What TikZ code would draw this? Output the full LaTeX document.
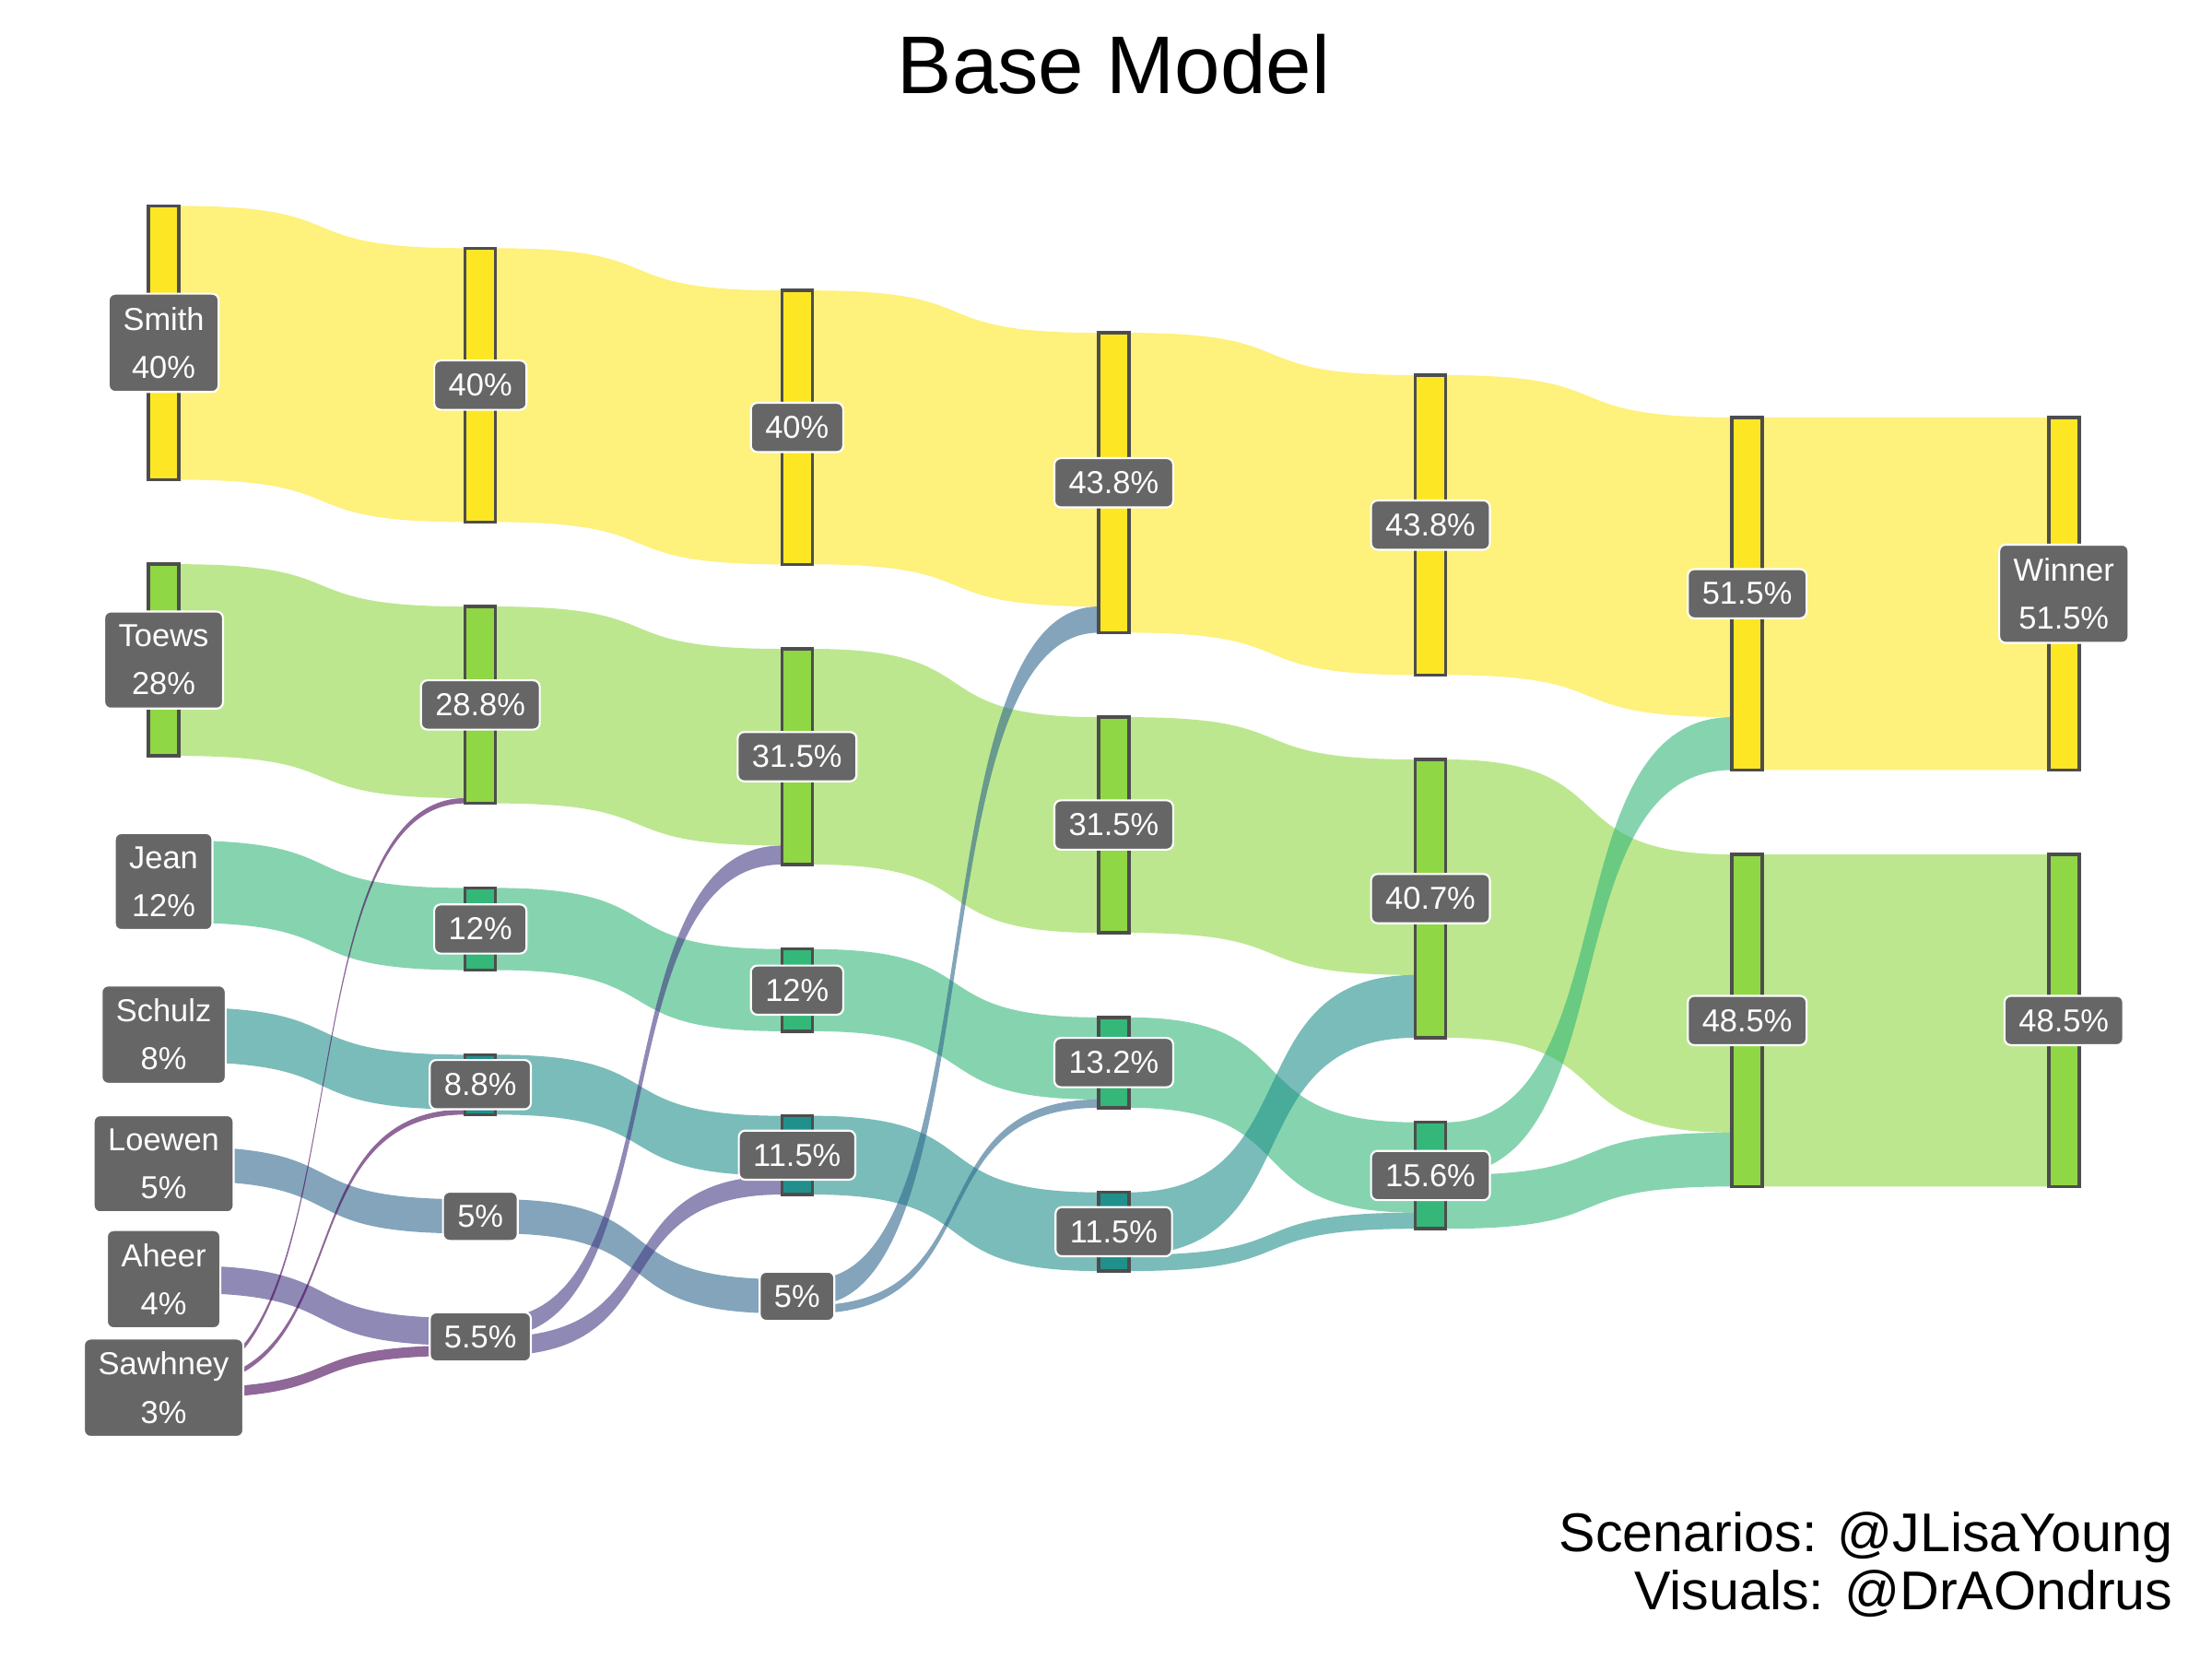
\documentclass[tikz,border=0pt]{standalone}
\usepackage{fontspec}
\setmainfont{Liberation Sans}
\usepackage{tikz}
\usetikzlibrary{calc, backgrounds}

\definecolor{smithc}{HTML}{FDE725}
\definecolor{toewsc}{HTML}{8FD744}
\definecolor{jeanc}{HTML}{35B779}
\definecolor{schulzc}{HTML}{21908C}
\definecolor{loewenc}{HTML}{31688E}
\definecolor{aheerc}{HTML}{443A83}
\definecolor{sawhneyc}{HTML}{440154}
\definecolor{barline}{HTML}{4D4D4D}
\definecolor{labgray}{HTML}{666666}

\begin{document}
\begin{tikzpicture}
[x=0.01cm, y=-0.01cm,
 vbar/.style={rectangle, draw=barline, line width=0.65pt, minimum width=0.215cm, inner sep=0pt, outer sep=0pt},
 lab/.style={rectangle, rounded corners=1.3pt, fill=labgray, draw=white, line width=0.4pt, text=white, align=center,
   font=\fontsize{6.4}{9.7}\selectfont, inner xsep=2.9pt, inner ysep=2.7pt},
 credit/.style={font=\fontsize{11}{12}\selectfont, anchor=base east, inner sep=0pt},
 smithflow/.style={fill=smithc, fill opacity=0.6},
 toewsflow/.style={fill=toewsc, fill opacity=0.6},
 jeanflow/.style={fill=jeanc, fill opacity=0.6},
 schulzflow/.style={fill=schulzc, fill opacity=0.6},
 loewenflow/.style={fill=loewenc, fill opacity=0.6},
 aheerflow/.style={fill=aheerc, fill opacity=0.6},
 sawhneyflow/.style={fill=sawhneyc, fill opacity=0.6}]
\useasboundingbox (0,0) rectangle (1568,1176);
\node[font=\fontsize{16.5}{20}\selectfont, anchor=base] (title) at (789.5,66) {Base Model};
% round 1
\node[vbar, fill=smithc, minimum height=1.94cm] (smith1) at (116,243) {};
\node[vbar, fill=toewsc, minimum height=1.358cm] (toews1) at (116,467.9) {};
\node[vbar, fill=jeanc, minimum height=0.582cm] (jean1) at (116,624.9) {};
\node[vbar, fill=schulzc, minimum height=0.388cm] (schulz1) at (116,733.4) {};
\node[vbar, fill=loewenc, minimum height=0.2425cm] (loewen1) at (116,824.93) {};
\node[vbar, fill=aheerc, minimum height=0.194cm] (aheer1) at (116,906.75) {};
\node[vbar, fill=sawhneyc, minimum height=0.1455cm] (sawhney1) at (116,983.73) {};
% round 2
\node[vbar, fill=smithc, minimum height=1.94cm] (smith2) at (340.5,273) {};
\node[vbar, fill=toewsc, minimum height=1.3944cm] (toews2) at (340.5,499.72) {};
\node[vbar, fill=jeanc, minimum height=0.582cm] (jean2) at (340.5,658.54) {};
\node[vbar, fill=schulzc, minimum height=0.4244cm] (schulz2) at (340.5,768.86) {};
\node[vbar, fill=loewenc, minimum height=0.2425cm] (loewen2) at (340.5,862.21) {};
\node[vbar, fill=aheerc, minimum height=0.26675cm] (aheer2) at (340.5,947.67) {};
% round 3
\node[vbar, fill=smithc, minimum height=1.94cm] (smith3) at (565,303) {};
\node[vbar, fill=toewsc, minimum height=1.52775cm] (toews3) at (565,536.39) {};
\node[vbar, fill=jeanc, minimum height=0.582cm] (jean3) at (565,701.88) {};
\node[vbar, fill=schulzc, minimum height=0.55775cm] (schulz3) at (565,818.86) {};
\node[vbar, fill=loewenc, minimum height=0.2425cm] (loewen3) at (565,918.88) {};
% round 4
\node[vbar, fill=smithc, minimum height=2.1243cm] (smith4) at (789.5,342.22) {};
\node[vbar, fill=toewsc, minimum height=1.52775cm] (toews4) at (789.5,584.82) {};
\node[vbar, fill=jeanc, minimum height=0.6402cm] (jean4) at (789.5,753.21) {};
\node[vbar, fill=schulzc, minimum height=0.55775cm] (schulz4) at (789.5,873.11) {};
% round 5
\node[vbar, fill=smithc, minimum height=2.1243cm] (smith5) at (1014,372.22) {};
\node[vbar, fill=toewsc, minimum height=1.9716cm] (toews5) at (1014,637) {};
\node[vbar, fill=jeanc, minimum height=0.7542cm] (jean5) at (1014,833.29) {};
% round 6 and result
\node[vbar, fill=smithc, minimum height=2.49775cm] (smith6) at (1238.5,420.89) {};
\node[vbar, fill=toewsc, minimum height=2.35225cm] (toews6) at (1238.5,723.39) {};
\node[vbar, fill=smithc, minimum height=2.49775cm] (smith7) at (1463,420.89) {};
\node[vbar, fill=toewsc, minimum height=2.35225cm] (toews7) at (1463,723.39) {};
\begin{scope}[on background layer]
% round 1 -> 2
\fill[smithflow] (smith1.north east) .. controls +(130,0) and +(-130,0) .. (smith2.north west) -- (smith2.south west) .. controls +(-130,0) and +(130,0) .. (smith1.south east) -- cycle;
\fill[toewsflow] (toews1.north east) .. controls +(130,0) and +(-130,0) .. (toews2.north west) -- ($(toews2.north west)+(0,135.8)$) .. controls +(-130,0) and +(130,0) .. (toews1.south east) -- cycle;
\fill[jeanflow] (jean1.north east) .. controls +(130,0) and +(-130,0) .. (jean2.north west) -- (jean2.south west) .. controls +(-130,0) and +(130,0) .. (jean1.south east) -- cycle;
\fill[schulzflow] (schulz1.north east) .. controls +(130,0) and +(-130,0) .. (schulz2.north west) -- ($(schulz2.north west)+(0,38.8)$) .. controls +(-130,0) and +(130,0) .. (schulz1.south east) -- cycle;
\fill[loewenflow] (loewen1.north east) .. controls +(130,0) and +(-130,0) .. (loewen2.north west) -- (loewen2.south west) .. controls +(-130,0) and +(130,0) .. (loewen1.south east) -- cycle;
\fill[aheerflow] (aheer1.north east) .. controls +(130,0) and +(-130,0) .. (aheer2.north west) -- ($(aheer2.north west)+(0,19.4)$) .. controls +(-130,0) and +(130,0) .. (aheer1.south east) -- cycle;
\fill[sawhneyflow] (sawhney1.north east) .. controls +(130,0) and +(-130,0) .. ($(toews2.north west)+(0,135.8)$) -- (toews2.south west) .. controls +(-130,0) and +(130,0) .. ($(sawhney1.north east)+(0,3.64)$) -- cycle;
\fill[sawhneyflow] ($(sawhney1.north east)+(0,3.64)$) .. controls +(130,0) and +(-130,0) .. ($(schulz2.north west)+(0,38.8)$) -- (schulz2.south west) .. controls +(-130,0) and +(130,0) .. ($(sawhney1.north east)+(0,7.28)$) -- cycle;
\fill[sawhneyflow] ($(sawhney1.north east)+(0,7.28)$) .. controls +(130,0) and +(-130,0) .. ($(aheer2.north west)+(0,19.4)$) -- (aheer2.south west) .. controls +(-130,0) and +(130,0) .. (sawhney1.south east) -- cycle;
% round 2 -> 3
\fill[smithflow] (smith2.north east) .. controls +(130,0) and +(-130,0) .. (smith3.north west) -- (smith3.south west) .. controls +(-130,0) and +(130,0) .. (smith2.south east) -- cycle;
\fill[toewsflow] (toews2.north east) .. controls +(130,0) and +(-130,0) .. (toews3.north west) -- ($(toews3.north west)+(0,139.44)$) .. controls +(-130,0) and +(130,0) .. (toews2.south east) -- cycle;
\fill[jeanflow] (jean2.north east) .. controls +(130,0) and +(-130,0) .. (jean3.north west) -- (jean3.south west) .. controls +(-130,0) and +(130,0) .. (jean2.south east) -- cycle;
\fill[schulzflow] (schulz2.north east) .. controls +(130,0) and +(-130,0) .. (schulz3.north west) -- ($(schulz3.north west)+(0,42.44)$) .. controls +(-130,0) and +(130,0) .. (schulz2.south east) -- cycle;
\fill[loewenflow] (loewen2.north east) .. controls +(130,0) and +(-130,0) .. (loewen3.north west) -- (loewen3.south west) .. controls +(-130,0) and +(130,0) .. (loewen2.south east) -- cycle;
\fill[aheerflow] (aheer2.north east) .. controls +(130,0) and +(-130,0) .. ($(toews3.north west)+(0,139.44)$) -- (toews3.south west) .. controls +(-130,0) and +(130,0) .. ($(aheer2.north east)+(0,13.34)$) -- cycle;
\fill[aheerflow] ($(aheer2.north east)+(0,13.34)$) .. controls +(130,0) and +(-130,0) .. ($(schulz3.north west)+(0,42.44)$) -- (schulz3.south west) .. controls +(-130,0) and +(130,0) .. (aheer2.south east) -- cycle;
% round 3 -> 4
\fill[smithflow] (smith3.north east) .. controls +(130,0) and +(-130,0) .. (smith4.north west) -- ($(smith4.north west)+(0,194)$) .. controls +(-130,0) and +(130,0) .. (smith3.south east) -- cycle;
\fill[toewsflow] (toews3.north east) .. controls +(130,0) and +(-130,0) .. (toews4.north west) -- (toews4.south west) .. controls +(-130,0) and +(130,0) .. (toews3.south east) -- cycle;
\fill[jeanflow] (jean3.north east) .. controls +(130,0) and +(-130,0) .. (jean4.north west) -- ($(jean4.north west)+(0,58.2)$) .. controls +(-130,0) and +(130,0) .. (jean3.south east) -- cycle;
\fill[schulzflow] (schulz3.north east) .. controls +(130,0) and +(-130,0) .. (schulz4.north west) -- (schulz4.south west) .. controls +(-130,0) and +(130,0) .. (schulz3.south east) -- cycle;
\fill[loewenflow] (loewen3.north east) .. controls +(130,0) and +(-130,0) .. ($(smith4.north west)+(0,194)$) -- (smith4.south west) .. controls +(-130,0) and +(130,0) .. ($(loewen3.north east)+(0,18.43)$) -- cycle;
\fill[loewenflow] ($(loewen3.north east)+(0,18.43)$) .. controls +(130,0) and +(-130,0) .. ($(jean4.north west)+(0,58.2)$) -- (jean4.south west) .. controls +(-130,0) and +(130,0) .. (loewen3.south east) -- cycle;
% round 4 -> 5
\fill[smithflow] (smith4.north east) .. controls +(130,0) and +(-130,0) .. (smith5.north west) -- (smith5.south west) .. controls +(-130,0) and +(130,0) .. (smith4.south east) -- cycle;
\fill[toewsflow] (toews4.north east) .. controls +(130,0) and +(-130,0) .. (toews5.north west) -- ($(toews5.north west)+(0,152.78)$) .. controls +(-130,0) and +(130,0) .. (toews4.south east) -- cycle;
\fill[jeanflow] (jean4.north east) .. controls +(130,0) and +(-130,0) .. (jean5.north west) -- ($(jean5.north west)+(0,64.02)$) .. controls +(-130,0) and +(130,0) .. (jean4.south east) -- cycle;
\fill[schulzflow] (schulz4.north east) .. controls +(130,0) and +(-130,0) .. ($(toews5.north west)+(0,152.78)$) -- (toews5.south west) .. controls +(-130,0) and +(130,0) .. ($(schulz4.north east)+(0,44.38)$) -- cycle;
\fill[schulzflow] ($(schulz4.north east)+(0,44.38)$) .. controls +(130,0) and +(-130,0) .. ($(jean5.north west)+(0,64.02)$) -- (jean5.south west) .. controls +(-130,0) and +(130,0) .. (schulz4.south east) -- cycle;
% round 5 -> 6
\fill[smithflow] (smith5.north east) .. controls +(130,0) and +(-130,0) .. (smith6.north west) -- ($(smith6.north west)+(0,212.43)$) .. controls +(-130,0) and +(130,0) .. (smith5.south east) -- cycle;
\fill[toewsflow] (toews5.north east) .. controls +(130,0) and +(-130,0) .. (toews6.north west) -- ($(toews6.north west)+(0,197.15)$) .. controls +(-130,0) and +(130,0) .. (toews5.south east) -- cycle;
\fill[jeanflow] (jean5.north east) .. controls +(130,0) and +(-130,0) .. ($(smith6.north west)+(0,212.43)$) -- (smith6.south west) .. controls +(-130,0) and +(130,0) .. ($(jean5.north east)+(0,37.35)$) -- cycle;
\fill[jeanflow] ($(jean5.north east)+(0,37.35)$) .. controls +(130,0) and +(-130,0) .. ($(toews6.north west)+(0,197.15)$) -- (toews6.south west) .. controls +(-130,0) and +(130,0) .. (jean5.south east) -- cycle;
% round 6 -> result
\fill[smithflow] (smith6.north east) .. controls +(130,0) and +(-130,0) .. (smith7.north west) -- (smith7.south west) .. controls +(-130,0) and +(130,0) .. (smith6.south east) -- cycle;
\fill[toewsflow] (toews6.north east) .. controls +(130,0) and +(-130,0) .. (toews7.north west) -- (toews7.south west) .. controls +(-130,0) and +(130,0) .. (toews6.south east) -- cycle;
\end{scope}
% labels
\node[lab] (lsmith1) at (smith1) {Smith\\40\%};
\node[lab] (ltoews1) at (toews1) {Toews\\28\%};
\node[lab] (ljean1) at (jean1) {Jean\\12\%};
\node[lab] (lschulz1) at (schulz1) {Schulz\\8\%};
\node[lab] (lloewen1) at (loewen1) {Loewen\\5\%};
\node[lab] (laheer1) at (aheer1) {Aheer\\4\%};
\node[lab] (lsawhney1) at (sawhney1) {Sawhney\\3\%};
\node[lab] (lsmith2) at (smith2) {40\%};
\node[lab] (ltoews2) at (toews2) {28.8\%};
\node[lab] (ljean2) at (jean2) {12\%};
\node[lab] (lschulz2) at (schulz2) {8.8\%};
\node[lab] (lloewen2) at (loewen2) {5\%};
\node[lab] (laheer2) at (aheer2) {5.5\%};
\node[lab] (lsmith3) at (smith3) {40\%};
\node[lab] (ltoews3) at (toews3) {31.5\%};
\node[lab] (ljean3) at (jean3) {12\%};
\node[lab] (lschulz3) at (schulz3) {11.5\%};
\node[lab] (lloewen3) at (loewen3) {5\%};
\node[lab] (lsmith4) at (smith4) {43.8\%};
\node[lab] (ltoews4) at (toews4) {31.5\%};
\node[lab] (ljean4) at (jean4) {13.2\%};
\node[lab] (lschulz4) at (schulz4) {11.5\%};
\node[lab] (lsmith5) at (smith5) {43.8\%};
\node[lab] (ltoews5) at (toews5) {40.7\%};
\node[lab] (ljean5) at (jean5) {15.6\%};
\node[lab] (lsmith6) at (smith6) {51.5\%};
\node[lab] (ltoews6) at (toews6) {48.5\%};
\node[lab] (lsmith7) at (smith7) {Winner\\51.5\%};
\node[lab] (ltoews7) at (toews7) {48.5\%};
% credits
\node[credit] (credit1) at (1541,1100) {Scenarios: @JLisaYoung};
\node[credit] (credit2) at (1541,1141) {Visuals: @DrAOndrus};
\end{tikzpicture}
\end{document}
